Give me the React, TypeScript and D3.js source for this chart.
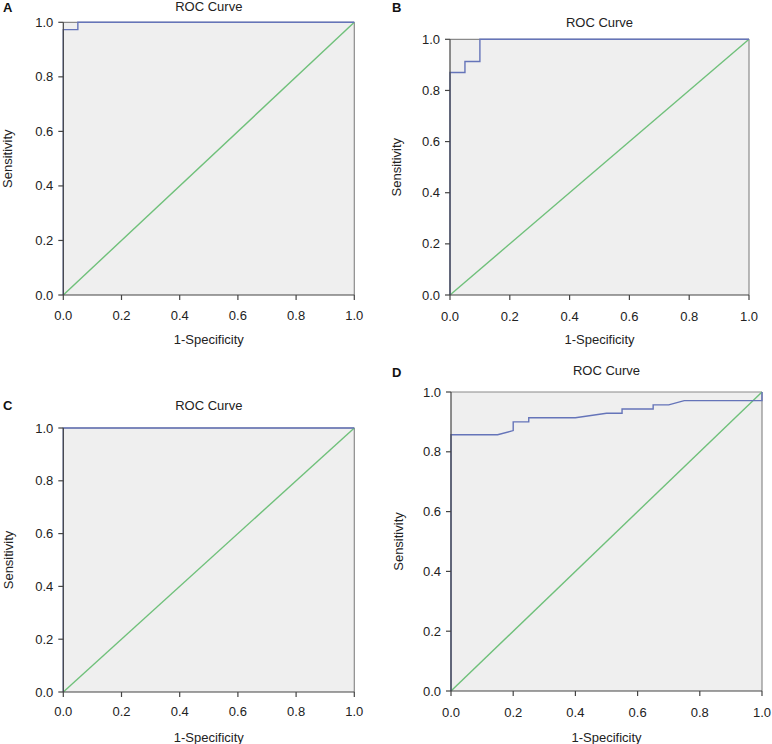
import React from "react";
import * as d3 from "d3";

const ticks = [0, 0.2, 0.4, 0.6, 0.8, 1.0];
const tickLabels = ["0.0", "0.2", "0.4", "0.6", "0.8", "1.0"];

const curveA_x = [0, 0, 0.05, 0.05, 1];
const curveA_y = [0, 0.973, 0.973, 1, 1];

const curveB_x = [0, 0, 0.05, 0.05, 0.1, 0.1, 1];
const curveB_y = [0, 0.87, 0.87, 0.913, 0.913, 1, 1];

const curveC_x = [0, 0, 1];
const curveC_y = [0, 1, 1];

const curveD_x = [0, 0, 0.15, 0.2, 0.2, 0.25, 0.25, 0.4, 0.5, 0.55, 0.55, 0.65, 0.65, 0.7, 0.75, 1, 1];
const curveD_y = [0, 0.857, 0.857, 0.871, 0.9, 0.9, 0.914, 0.914, 0.929, 0.929, 0.943, 0.943, 0.957, 0.957, 0.971, 0.971, 1];

const refLine_x = [0, 1];
const refLine_y = [0, 1];

const panelLetters = ["A", "B", "C", "D"];
const title = "ROC Curve";
const xTitle = "1-Specificity";
const yTitle = "Sensitivity";

const FONT = "'Liberation Sans', Arial, sans-serif";

type PanelProps = {
  letter: string;
  lx: number;
  ly: number;
  x0: number;
  x1: number;
  yTop: number;
  yBot: number;
  titleY: number;
  tickLabelY: number;
  xLabelY: number;
  yLabelX: number;
  cx: number[];
  cy: number[];
};

function Panel(p: PanelProps) {
  const xs = d3.scaleLinear().domain([0, 1]).range([p.x0, p.x1]);
  const ys = d3.scaleLinear().domain([0, 1]).range([p.yBot, p.yTop]);
  const line = d3
    .line<[number, number]>()
    .x((d) => xs(d[0]))
    .y((d) => ys(d[1]));
  const curvePts: [number, number][] = p.cx.map((v, i) => [v, p.cy[i]]);
  const refPts: [number, number][] = refLine_x.map((v, i) => [v, refLine_y[i]]);
  const midX = (p.x0 + p.x1) / 2;
  const midY = (p.yTop + p.yBot) / 2;
  return (
    <g fontFamily={FONT}>
      <text x={p.lx} y={p.ly} fontSize={13} fontWeight="bold" fill="#111" dominantBaseline="central">
        {p.letter}
      </text>
      <text x={midX} y={p.titleY} fontSize={13} fill="#222" textAnchor="middle" dominantBaseline="central">
        {title}
      </text>
      <rect x={p.x0} y={p.yTop} width={p.x1 - p.x0} height={p.yBot - p.yTop} fill="#efefef" />
      <line x1={p.x0} x2={p.x1} y1={p.yTop} y2={p.yTop} stroke="#8a8a8a" strokeWidth={1.2} />
      <line x1={p.x1} x2={p.x1} y1={p.yTop} y2={p.yBot} stroke="#8a8a8a" strokeWidth={1.2} />
      <path d={line(refPts) || ""} fill="none" stroke="#6fc07a" strokeWidth={1.4} />
      <path d={line(curvePts) || ""} fill="none" stroke="#6574b9" strokeWidth={1.4} />
      <line x1={p.x0} x2={p.x0} y1={p.yTop} y2={p.yBot} stroke="#444" strokeWidth={1.2} />
      <line x1={p.x0} x2={p.x1} y1={p.yBot} y2={p.yBot} stroke="#444" strokeWidth={1.2} />
      {ticks.map((t, i) => (
        <g key={"x" + i}>
          <line x1={xs(t)} x2={xs(t)} y1={p.yBot} y2={p.yBot + 5} stroke="#444" strokeWidth={1.2} />
          <text x={xs(t)} y={p.tickLabelY} fontSize={13} fill="#222" textAnchor="middle" dominantBaseline="central">
            {tickLabels[i]}
          </text>
        </g>
      ))}
      {ticks.map((t, i) => (
        <g key={"y" + i}>
          <line x1={p.x0 - 5} x2={p.x0} y1={ys(t)} y2={ys(t)} stroke="#444" strokeWidth={1.2} />
          <text x={p.x0 - 10} y={ys(t)} fontSize={13} fill="#222" textAnchor="end" dominantBaseline="central">
            {tickLabels[i]}
          </text>
        </g>
      ))}
      <text x={midX} y={p.xLabelY} fontSize={13} fill="#222" textAnchor="middle" dominantBaseline="central">
        {xTitle}
      </text>
      <text
        x={p.yLabelX}
        y={midY}
        fontSize={13}
        fill="#222"
        textAnchor="middle"
        dominantBaseline="central"
        transform={`rotate(-90 ${p.yLabelX} ${midY})`}
      >
        {yTitle}
      </text>
    </g>
  );
}

export default function App() {
  return (
    <svg width={772} height={744} style={{ display: "block", position: "absolute", left: 0, top: 0 }}>
      <rect x={0} y={0} width={772} height={744} fill="#fff" />
      <Panel letter={panelLetters[0]} lx={3} ly={7} x0={63.3} x1={354.3} yTop={22.3} yBot={295}
        titleY={6} tickLabelY={315} xLabelY={339} yLabelX={8} cx={curveA_x} cy={curveA_y} />
      <Panel letter={panelLetters[1]} lx={392} ly={7} x0={450} x1={749} yTop={39.3} yBot={295}
        titleY={22} tickLabelY={316} xLabelY={339} yLabelX={397} cx={curveB_x} cy={curveB_y} />
      <Panel letter={panelLetters[2]} lx={3} ly={405} x0={63.3} x1={354.3} yTop={428} yBot={692}
        titleY={405} tickLabelY={711} xLabelY={737} yLabelX={8} cx={curveC_x} cy={curveC_y} />
      <Panel letter={panelLetters[3]} lx={392} ly={372} x0={451} x1={762} yTop={392} yBot={691}
        titleY={370} tickLabelY={712} xLabelY={737} yLabelX={398} cx={curveD_x} cy={curveD_y} />
    </svg>
  );
}
